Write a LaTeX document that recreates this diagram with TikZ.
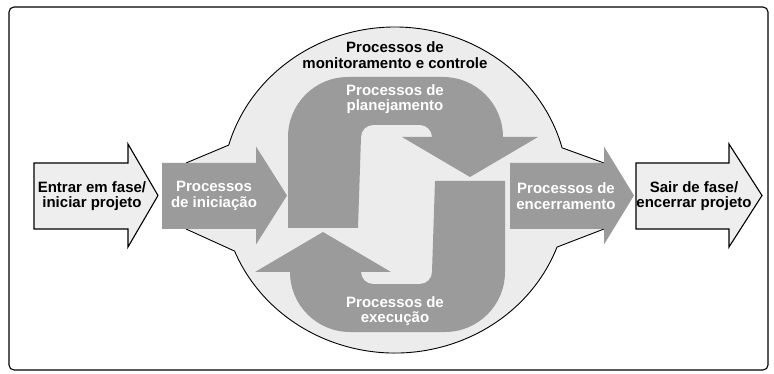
\documentclass[tikz,border=0pt]{standalone}
\usepackage{fontspec}
\setmainfont{Liberation Sans}
\usepackage{tikz}
\definecolor{blobgray}{HTML}{ECECEC}
\definecolor{stepgray}{HTML}{9B9B9B}
\definecolor{gategray}{HTML}{EEEEEE}
\newcommand{\blockarrow}[5][]{\path[#1] (#2,163) -- (#3,163) -- (#3,195.5-#5) -- (#4,195.5) -- (#3,195.5+#5) -- (#3,229) -- (#2,229) -- cycle;}
\newcommand{\loopshape}{(288,228) -- (288,137) arc[start angle=180, end angle=270, radius=60] -- (443,77)
  arc[start angle=270, end angle=360, radius=60] -- (538,137) -- (470,177) -- (402,137) -- (432,137)
  arc[start angle=0, end angle=-90, radius=12] -- (373,125) arc[start angle=270, end angle=180, radius=12] -- (358,228) -- cycle}
\tikzset{gatearrow/.style={draw=black, line width=1.1pt, fill=gategray},
  stagearrow/.style={fill=stepgray},
  lbl/.style={font=\fontsize{15}{15.5}\selectfont\bfseries, align=center, inner sep=0pt},
  wlbl/.style={lbl, text=white}}

\begin{document}
\begin{tikzpicture}[x=1pt, y=-1pt]
\useasboundingbox (0,0) rectangle (774,374);
\draw[line width=1.1pt, rounded corners=5pt] (9,7) rectangle (768,370);
% monitoring blob
\path[fill=blobgray] (186,163) -- (228.7,145.1) arc[start angle=196, end angle=345, x radius=173, y radius=163]
  -- (604,163) -- (604,229) -- (557,247.1) arc[start angle=20.5, end angle=158, x radius=173, y radius=163]
  -- (186,229) -- cycle;
\draw[line width=0.9pt] (186,163) -- (228.7,145.1) arc[start angle=196, end angle=345, x radius=173, y radius=163] -- (604,163);
\draw[line width=0.9pt] (604,229) -- (557,247.1) arc[start angle=20.5, end angle=158, x radius=173, y radius=163] -- (186,229);
% phase arrows
\blockarrow[gatearrow]{34}{128}{158}{51.5}
\blockarrow[stagearrow]{162}{256}{287}{49}
\blockarrow[stagearrow]{510}{604}{634}{49}
\blockarrow[gatearrow]{636}{729}{762}{51.5}
% planning / execution loop
\path[stagearrow] \loopshape;
\path[stagearrow, rotate around={180:(396.5,204.5)}] \loopshape;
% labels
\node[lbl] (monit) at (395,55) {Processos de\\monitoramento e controle};
\node[wlbl] (plan) at (395,99) {Processos de\\planejamento};
\node[wlbl] (exec) at (395,311) {Processos de\\execução};
\node[wlbl] (init) at (214,196) {Processos\\de iniciação};
\node[wlbl] (close) at (566,196) {Processos de\\encerramento};
\node[lbl] (enter) at (92,196) {Entrar em fase/\\iniciar projeto};
\node[lbl] (leave) at (694,196) {Sair de fase/\\encerrar projeto};
\end{tikzpicture}
\end{document}
